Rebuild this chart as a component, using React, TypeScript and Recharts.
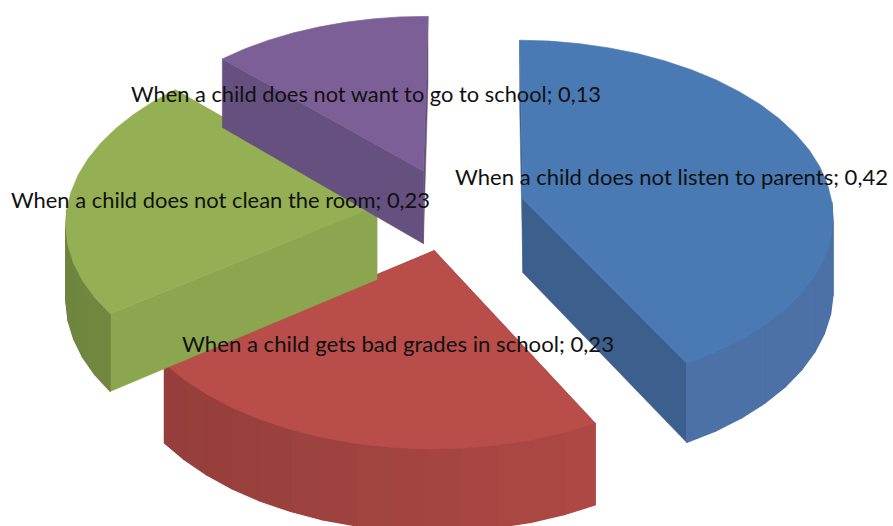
import React from "react";
import { PieChart, Pie } from "recharts";

const categories = [
  "When a child does not listen to parents",
  "When a child gets bad grades in school",
  "When a child does not clean the room",
  "When a child does not want to go to school",
];
const values = [0.42, 0.228, 0.226, 0.126];
const shownValues = [0.42, 0.23, 0.23, 0.13];
const rows = categories.map((name, i) => ({ name, value: values[i] }));

const topColors = ["#4A7AB4", "#B84D4A", "#95B054", "#7D5F98"];
const radialColors = ["#3D5F8D", "#923C3A", "#8BA64E", "#65507F"];
const wallColors = [
  [74, 110, 162],
  [168, 70, 66],
  [128, 154, 72],
  [100, 80, 128],
];
const labelBoxes = [
  { x: 455, y: 185, w: 433 },
  { x: 182, y: 352, w: 432 },
  { x: 11, y: 208, w: 419 },
  { x: 131, y: 102, w: 470 },
];

const CX = 451;
const CY = 209;
const RX = 310;
const RY = 174;
const K = 0.085;
const EXPLODE = 0.24;
const DEPTH = 74;

type P = [number, number];
const project = (wx: number, wy: number, drop: number): P => {
  const s = 1 / (1 - K * wy);
  return [CX + wx * RX * s, CY + wy * RY * s + drop * s];
};
const toPath = (pts: P[]) =>
  "M" + pts.map((p) => `${p[0].toFixed(1)},${p[1].toFixed(1)}`).join("L") + "Z";
const rad = (d: number) => (d * Math.PI) / 180;

const Slice3D = (props: any) => {
  const { startAngle, endAngle, name } = props;
  const idx = categories.indexOf(name ?? props.payload?.name);
  const mid = (startAngle + endAngle) / 2;
  const ox = Math.cos(rad(mid)) * EXPLODE;
  const oy = -Math.sin(rad(mid)) * EXPLODE;
  const at = (deg: number, r: number, drop: number) =>
    project(ox + Math.cos(rad(deg)) * r, oy - Math.sin(rad(deg)) * r, drop);
  const steps = Math.max(6, Math.round(Math.abs(startAngle - endAngle) / 6));
  const angles: number[] = [];
  for (let i = 0; i <= steps; i++) angles.push(startAngle + ((endAngle - startAngle) * i) / steps);

  const top: P[] = [at(0, 0, 0), ...angles.map((a) => at(a, 1, 0))];
  const wallA: P[] = [at(0, 0, 0), at(startAngle, 1, 0), at(startAngle, 1, DEPTH), at(0, 0, DEPTH)];
  const wallB: P[] = [at(0, 0, 0), at(endAngle, 1, 0), at(endAngle, 1, DEPTH), at(0, 0, DEPTH)];
  const outer: React.ReactNode[] = [];
  const base = wallColors[idx];
  for (let i = 0; i < steps; i++) {
    const a0 = angles[i];
    const a1 = angles[i + 1];
    const m = rad((a0 + a1) / 2);
    if (Math.sin(m) > 0.02) continue;
    const f = Math.min(1.03, 0.98 + 0.12 * Math.cos(m));
    const c = base.map((v) => Math.round(v * f));
    const col = `rgb(${c[0]},${c[1]},${c[2]})`;
    outer.push(
      <path
        key={i}
        d={toPath([at(a0, 1, 0), at(a1, 1, 0), at(a1, 1, DEPTH), at(a0, 1, DEPTH)])}
        fill={col}
        stroke={col}
        strokeWidth={1.2}
        strokeLinejoin="round"
      />
    );
  }
  return (
    <g>
      <path d={toPath(wallA)} fill={radialColors[idx]} stroke={radialColors[idx]} strokeWidth={0.5} />
      <path d={toPath(wallB)} fill={radialColors[idx]} stroke={radialColors[idx]} strokeWidth={0.5} />
      {outer}
      <path d={toPath(top)} fill={topColors[idx]} stroke={topColors[idx]} strokeWidth={0.7} />
    </g>
  );
};

const renderLabel = (props: any) => {
  const idx = categories.indexOf(props.name ?? props.payload?.name);
  const box = labelBoxes[idx];
  const text = `${categories[idx]}; ${shownValues[idx].toFixed(2).replace(".", ",")}`;
  return (
    <text
      x={box.x}
      y={box.y}
      textAnchor="start"
      fill="#111"
      fontFamily="Lato, sans-serif"
      fontSize={22}
      textLength={box.w}
      lengthAdjust="spacingAndGlyphs"
    >
      {text}
    </text>
  );
};

export default function App() {
  return (
    <div style={{ position: "absolute", left: 0, top: 0, width: 893, height: 526, background: "#fff", overflow: "hidden" }}>
      <PieChart width={893} height={526} margin={{ top: 0, right: 0, bottom: 0, left: 0 }}>
        <Pie
          data={rows}
          dataKey="value"
          nameKey="name"
          cx={CX}
          cy={CY}
          innerRadius={0}
          outerRadius={RX}
          startAngle={89.5}
          endAngle={-270.5}
          stroke="none"
          isAnimationActive={false}
          shape={Slice3D}
          label={renderLabel}
          labelLine={false}
        />
      </PieChart>
    </div>
  );
}
